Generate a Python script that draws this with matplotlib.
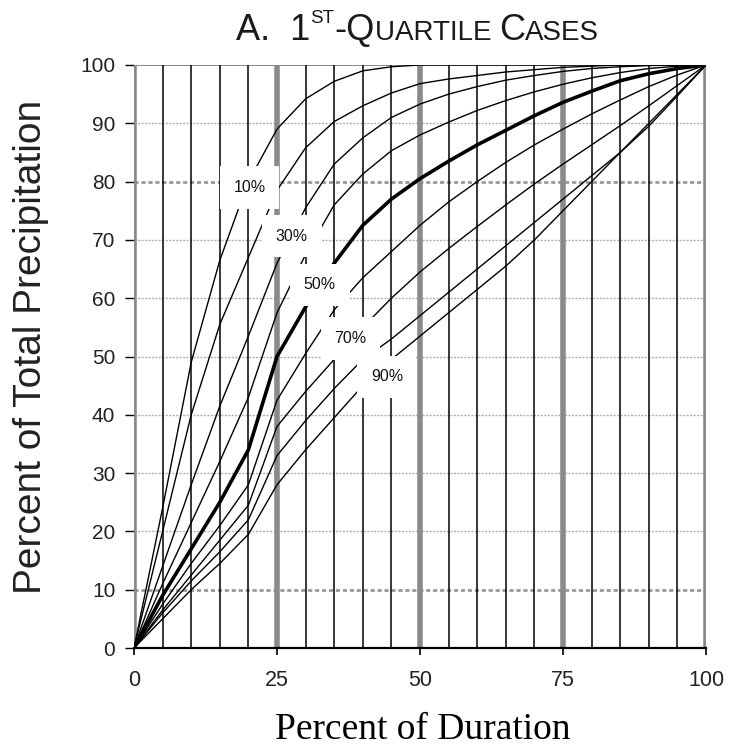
import matplotlib
matplotlib.use("Agg")
import matplotlib.pyplot as plt

# Percent of storm duration at which each curve is sampled
duration = [0, 5, 10, 15, 20, 25, 30, 35, 40, 45, 50,
            55, 60, 65, 70, 75, 80, 85, 90, 95, 100]

# Cumulative percent of total precipitation, one list per probability level
p10 = [0, 24, 49, 66.5, 80, 89, 94.2, 97.2, 99, 99.7, 100,
       100, 100, 100, 100, 100, 100, 100, 100, 100, 100]
p20 = [0, 20, 40, 55.5, 67, 78.5, 85.8, 90.3, 93, 95.2, 96.8,
       97.6, 98.2, 98.8, 99.2, 99.6, 99.8, 100, 100, 100, 100]
p30 = [0, 14, 28, 41.5, 53.5, 66, 75.5, 83, 87.5, 91, 93.3,
       95, 96.3, 97.4, 98.2, 98.9, 99.4, 99.7, 99.9, 100, 100]
p40 = [0, 11, 21.5, 32, 43, 57.5, 67.5, 76, 81.3, 85.3, 88,
       90.2, 92.2, 93.9, 95.4, 96.7, 97.8, 98.7, 99.4, 99.8, 100]
p50 = [0, 9, 17, 25, 34, 50, 58.5, 66, 72.5, 77, 80.5,
       83.5, 86.3, 88.8, 91.3, 93.6, 95.5, 97.3, 98.5, 99.4, 100]
p60 = [0, 7.5, 14.5, 21, 28, 42.5, 50.5, 58, 63.5, 68, 72.5,
       76.5, 80, 83.3, 86.3, 89, 91.6, 94, 96.3, 98.3, 100]
p70 = [0, 6.5, 12.5, 18.5, 24.5, 38, 44, 49.5, 55, 60, 64.5,
       68.5, 72.3, 76, 79.6, 83, 86.3, 89.6, 93, 96.5, 100]
p80 = [0, 6, 11.5, 16.5, 22, 33, 39, 44.5, 49.5, 53, 57,
       61, 65, 69, 73, 77, 81, 85, 89.5, 94.7, 100]
p90 = [0, 5, 10, 14.5, 19.5, 28, 34, 39.5, 45, 49.5, 53.5,
       57.5, 61.5, 65.5, 70, 75, 80, 85, 90, 95, 100]

curves = [p10, p20, p30, p40, p50, p60, p70, p80, p90]
levels = [10, 20, 30, 40, 50, 60, 70, 80, 90]

# Curve labels and where they sit
label_text = ["10%", "30%", "50%", "70%", "90%"]
label_x = [20.2, 27.6, 32.5, 37.8, 44.2]
label_y = [79.0, 70.6, 62.3, 53.1, 46.5]

x_ticks = [0, 25, 50, 75, 100]
y_ticks = [0, 10, 20, 30, 40, 50, 60, 70, 80, 90, 100]

SANS = ["Liberation Sans", "DejaVu Sans"]
GRAY = "#8a8a8a"

fig = plt.figure(figsize=(7.30, 7.52), dpi=100)
ax = fig.add_axes([134 / 730, 104 / 752, 572 / 730, 583 / 752])
ax.set_xlim(0, 100)
ax.set_ylim(0, 100)

# horizontal grid: fine dashed gray lines every 10 %
for y in y_ticks[1:-1]:
    heavy = y in (10, 80)
    ax.axhline(y, color="#9a9a9a" if heavy else "#b0b0b0",
               lw=2.0 if heavy else 1.0, ls=(0, (1.5, 1)), zorder=1)
ax.axhline(100, color=GRAY, lw=1.4, zorder=1)

# vertical grid: black every 5 %, heavy gray at the quarter marks
for x in range(5, 100, 5):
    if x % 25 == 0:
        ax.axvline(x, color=GRAY, lw=4.0, zorder=2)
    else:
        ax.axvline(x, color="black", lw=1.1, zorder=2)
ax.axvline(0, color=GRAY, lw=4.0, zorder=2)
ax.axvline(100, color=GRAY, lw=4.0, zorder=2)

# the mass curves, median curve in bold
for lvl, vals in zip(levels, curves):
    ax.plot(duration, vals, color="black",
            lw=2.6 if lvl == 50 else 1.0, zorder=3,
            solid_joinstyle="round")

for t, lx, ly in zip(label_text, label_x, label_y):
    ax.text(lx, ly, t, ha="center", va="center", fontsize=11.5,
            family=SANS, color="#111111", zorder=5,
            bbox=dict(boxstyle="square,pad=0.85", fc="white", ec="none"))

for side in ("top", "right", "left"):
    ax.spines[side].set_visible(False)
ax.spines["bottom"].set_color("black")
ax.spines["bottom"].set_linewidth(1.6)
ax.spines["bottom"].set_zorder(4)

ax.set_xticks(x_ticks)
ax.set_yticks(y_ticks)
ax.set_xticklabels([str(v) for v in x_ticks])
ax.set_yticklabels([str(v) for v in y_ticks])
ax.tick_params(axis="x", direction="out", length=5, width=1.2,
               pad=11, labelsize=15.5, colors="black")
ax.tick_params(axis="y", direction="out", length=6.5, width=1.0,
               pad=7, labelsize=15, colors="black")
for lab in ax.get_xticklabels():
    lab.set_family(SANS)
    lab.set_color("#222222")
for lab in ax.get_yticklabels():
    lab.set_family(SANS)
    lab.set_color("#222222")

fig.text(31 / 730, 1 - 347 / 752, "Percent of Total Precipitation",
         rotation=90, ha="center", va="center", fontsize=28,
         family=SANS, color="#222222")
fig.text(423 / 730, 1 - 730 / 752, "Percent of Duration",
         ha="center", va="center", fontsize=27,
         family=["Liberation Serif", "DejaVu Serif"], color="black")

# Title with a raised ordinal and small capitals, laid out piece by piece
pieces = [("A.  1", 26, 0), ("ST", 13.5, 17), ("-Q", 26, 0),
          ("UARTILE ", 20, 0), ("C", 26, 0), ("ASES", 20, 0)]
renderer = fig.canvas.get_renderer()
base_y = 40
objs = []
for txt, size, rise in pieces:
    t = fig.text(0, 1 - (base_y - rise) / 752, txt, fontsize=size,
                 family=SANS, va="baseline", ha="left", color="#1a1a1a")
    objs.append(t)
widths = [o.get_window_extent(renderer).width for o in objs]
total = sum(widths)
x0 = (232 + 603) / 2 - total / 2
for o, w in zip(objs, widths):
    o.set_x(x0 / 730)
    x0 += w

fig.savefig("out.png", dpi=100)
